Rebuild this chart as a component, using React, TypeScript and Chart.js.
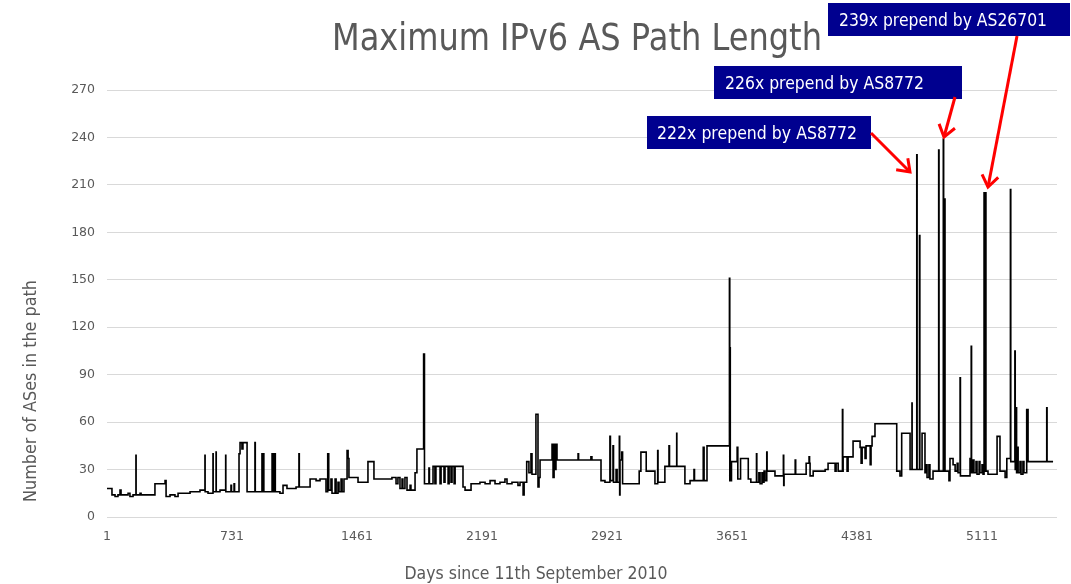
import React, { useEffect, useRef } from "react";
import { Chart, registerables } from "chart.js";

Chart.register(...registerables);

// Day index (days since 11 Sep 2010) at which each value starts
const days = [
  1, 30, 48, 65, 77, 83, 124, 135, 153, 170, 171, 194, 200, 281, 340, 346, 369, 398, 416, 486,
  544, 573, 574, 591, 620, 621, 638, 639, 661, 694, 695, 725, 728, 743, 746, 772, 778, 789, 795, 819,
  865, 867, 906, 908, 915, 917, 965, 967, 975, 977, 982, 984, 1011, 1029, 1052, 1105, 1122, 1124, 1187, 1222,
  1245, 1280, 1290, 1296, 1309, 1315, 1333, 1339, 1350, 1356, 1368, 1374, 1385, 1403, 1409, 1414, 1467, 1525, 1560, 1665,
  1689, 1700, 1712, 1724, 1729, 1741, 1753, 1771, 1776, 1800, 1811, 1850, 1855, 1881, 1884, 1905, 1916, 1922, 1946, 1952,
  1969, 1975, 1993, 1999, 2010, 2016, 2028, 2034, 2080, 2092, 2127, 2179, 2209, 2238, 2267, 2296, 2325, 2337, 2366, 2401,
  2413, 2431, 2437, 2452, 2465, 2477, 2483, 2506, 2518, 2524, 2530, 2600, 2606, 2612, 2618, 2623, 2629, 2752, 2755, 2827,
  2833, 2886, 2909, 2938, 2941, 2956, 2959, 2974, 2980, 2993, 2995, 2997, 3007, 3012, 3109, 3119, 3150, 3201, 3217, 3219,
  3259, 3283, 3286, 3328, 3329, 3376, 3406, 3429, 3432, 3483, 3488, 3505, 3636, 3638, 3639, 3641, 3648, 3681, 3685, 3701,
  3746, 3761, 3794, 3796, 3808, 3815, 3826, 3832, 3838, 3844, 3854, 3856, 3902, 3951, 3953, 3955, 4020, 4023, 4084, 4101,
  4104, 4107, 4125, 4195, 4212, 4253, 4259, 4271, 4296, 4298, 4300, 4323, 4329, 4358, 4399, 4405, 4411, 4428, 4434, 4458,
  4463, 4469, 4486, 4613, 4632, 4642, 4691, 4702, 4703, 4730, 4732, 4746, 4748, 4761, 4778, 4784, 4790, 4801, 4807, 4825,
  4858, 4860, 4885, 4887, 4891, 4895, 4918, 4924, 4942, 4954, 4966, 4971, 4983, 4985, 5041, 5048, 5050, 5059, 5064, 5076,
  5082, 5094, 5099, 5111, 5117, 5123, 5126, 5129, 5134, 5146, 5199, 5216, 5246, 5256, 5277, 5279, 5303, 5305, 5311, 5313,
  5319, 5322, 5333, 5339, 5350, 5356, 5372, 5380, 5489, 5491, 5526,
];

// Maximum AS path length from that day on
const maxPathLength = [
  18, 14, 13, 14, 17, 14, 15, 13, 14, 39, 14, 15, 14, 21, 23, 13, 14, 13, 15, 16,
  17, 39, 16, 15, 40, 16, 41, 16, 17, 39, 16, 20, 16, 21, 16, 40, 47, 43, 47, 16,
  47, 16, 40, 16, 40, 16, 40, 16, 40, 16, 40, 16, 15, 20, 18, 19, 40, 19, 24, 23,
  24, 16, 40, 17, 24, 15, 24, 15, 22, 16, 24, 16, 24, 42, 37, 25, 22, 35, 24, 25,
  21, 25, 18, 24, 18, 25, 17, 20, 17, 28, 43, 103, 21, 31, 21, 32, 21, 32, 21, 32,
  22, 32, 21, 32, 22, 32, 21, 32, 19, 17, 21, 22, 21, 23, 21, 22, 24, 21, 22, 20,
  22, 14, 22, 35, 28, 40, 27, 65, 19, 25, 36, 46, 25, 46, 30, 46, 36, 40, 36, 38,
  36, 23, 22, 51, 23, 45, 22, 30, 22, 51, 14, 36, 41, 21, 29, 41, 29, 21, 42, 22,
  32, 45, 32, 53, 32, 21, 23, 30, 23, 44, 23, 45, 151, 23, 107, 23, 35, 44, 24, 37,
  24, 22, 40, 22, 28, 21, 28, 22, 29, 23, 41, 29, 26, 39, 20, 27, 36, 27, 34, 38,
  34, 26, 29, 30, 34, 29, 34, 29, 68, 29, 38, 29, 38, 48, 44, 34, 44, 37, 45, 33,
  45, 51, 59, 29, 26, 53, 30, 72, 30, 229, 30, 178, 30, 53, 28, 33, 25, 33, 24, 29,
  232, 29, 239, 29, 201, 29, 23, 37, 33, 29, 34, 28, 88, 26, 37, 108, 28, 36, 28, 35,
  27, 35, 28, 33, 27, 205, 29, 205, 29, 27, 51, 29, 25, 37, 207, 35, 105, 30, 69, 28,
  44, 28, 35, 27, 35, 28, 68, 35, 69, 35, 35,
];

const xTickValues = [1, 731, 1461, 2191, 2921, 3651, 4381, 5111];
const yTickValues = [0, 30, 60, 90, 120, 150, 180, 210, 240, 270];

const chartTitle = "Maximum IPv6 AS Path Length";
const xAxisTitle = "Days since 11th September 2010";
const yAxisTitle = "Number of ASes in the path";
const calloutLabels = [
  "239x prepend by AS26701",
  "226x prepend by AS8772",
  "222x prepend by AS8772",
];

const FONT = '"DejaVu Sans", Verdana, sans-serif';
const GREY = "#595959";
const NAVY = "#00008F";
const RED = "#FF0000";

function drawFitted(
  ctx: CanvasRenderingContext2D,
  text: string,
  x: number,
  y: number,
  size: number,
  targetW: number,
  color: string,
  align: CanvasTextAlign,
  rotation = 0
) {
  ctx.save();
  ctx.font = `${size}px ${FONT}`;
  const w = ctx.measureText(text).width;
  const sx = targetW / w;
  ctx.translate(x, y);
  if (rotation) ctx.rotate(rotation);
  ctx.scale(sx, 1);
  ctx.textAlign = align;
  ctx.textBaseline = "alphabetic";
  ctx.fillStyle = color;
  ctx.fillText(text, 0, 0);
  ctx.restore();
}

function drawArrow(ctx: CanvasRenderingContext2D, x1: number, y1: number, x2: number, y2: number) {
  ctx.save();
  ctx.strokeStyle = RED;
  ctx.lineWidth = 3;
  ctx.lineCap = "butt";
  ctx.lineJoin = "miter";
  ctx.beginPath();
  ctx.moveTo(x1, y1);
  ctx.lineTo(x2, y2);
  ctx.stroke();
  const ang = Math.atan2(y2 - y1, x2 - x1);
  const L = 14;
  const a = Math.PI / 5;
  ctx.beginPath();
  ctx.moveTo(x2 - L * Math.cos(ang - a), y2 - L * Math.sin(ang - a));
  ctx.lineTo(x2, y2);
  ctx.lineTo(x2 - L * Math.cos(ang + a), y2 - L * Math.sin(ang + a));
  ctx.stroke();
  ctx.restore();
}

const overlayPlugin = {
  id: "overlay",
  afterDraw(chart: any) {
    const ctx: CanvasRenderingContext2D = chart.ctx;
    // Title
    drawFitted(ctx, chartTitle, 577, 50, 37, 490, GREY, "center");
    // Axis titles
    drawFitted(ctx, xAxisTitle, 536, 579, 17, 263, GREY, "center");
    drawFitted(ctx, yAxisTitle, 36, 391, 18, 222, GREY, "center", -Math.PI / 2);

    // Callout boxes
    const boxes = [
      { x: 828, y: 3, w: 242, h: 33, tx: 839, tw: 208 },
      { x: 714, y: 66, w: 248, h: 33, tx: 725, tw: 199 },
      { x: 647, y: 116, w: 224, h: 33, tx: 657, tw: 200 },
    ];
    boxes.forEach((b, i) => {
      ctx.save();
      ctx.fillStyle = NAVY;
      ctx.fillRect(b.x, b.y, b.w, b.h);
      ctx.restore();
      drawFitted(ctx, calloutLabels[i], b.tx, b.y + b.h / 2 + 6.5, 17, b.tw, "#FFFFFF", "left");
    });

    // Arrows
    drawArrow(ctx, 1017, 36, 988, 187);
    drawArrow(ctx, 955, 97, 944, 137);
    drawArrow(ctx, 871, 133, 910, 172);
  },
};

export default function App() {
  const canvasRef = useRef<HTMLCanvasElement | null>(null);

  useEffect(() => {
    document.body.style.margin = "0";
    const canvas = canvasRef.current;
    if (!canvas) return;
    const points = days.map((d, i) => ({ x: d, y: maxPathLength[i] }));
    const chart = new Chart(canvas, {
      type: "line",
      data: {
        datasets: [
          {
            data: points,
            borderColor: "#000000",
            borderWidth: 1.6,
            pointRadius: 0,
            stepped: true,
            fill: false,
          },
        ],
      },
      options: {
        responsive: false,
        animation: false,
        events: [],
        layout: { padding: { top: 90, right: 14, left: 0, bottom: 0 } },
        plugins: {
          legend: { display: false },
          tooltip: { enabled: false },
          title: { display: false },
        },
        scales: {
          x: {
            type: "linear",
            min: 1,
            max: 5549,
            grid: { display: false, drawTicks: false },
            border: { display: false },
            ticks: {
              color: GREY,
              font: { family: FONT, size: 12.5 },
              autoSkip: false,
              maxRotation: 0,
              padding: 12,
              callback: (v: any) => String(v),
            },
            afterBuildTicks: (s: any) => {
              s.ticks = xTickValues.map((v) => ({ value: v }));
            },
            afterFit: (s: any) => {
              s.height = 67;
            },
          },
          y: {
            type: "linear",
            min: 0,
            max: 270,
            grid: { color: "#D9D9D9", lineWidth: 1, drawTicks: false },
            border: { display: false },
            ticks: {
              color: GREY,
              font: { family: FONT, size: 12.5 },
              padding: 12,
              callback: (v: any) => String(v),
            },
            afterBuildTicks: (s: any) => {
              s.ticks = yTickValues.map((v) => ({ value: v }));
            },
            afterFit: (s: any) => {
              s.width = 107;
            },
          },
        },
      },
      plugins: [overlayPlugin],
    });
    return () => chart.destroy();
  }, []);

  return (
    <div style={{ width: 1071, height: 584, background: "#FFFFFF" }}>
      <canvas ref={canvasRef} width={1071} height={584} style={{ display: "block" }} />
    </div>
  );
}
